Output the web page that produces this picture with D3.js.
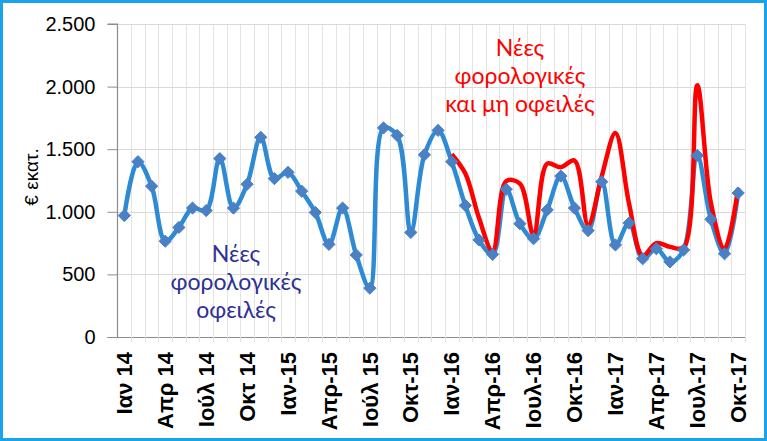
<!DOCTYPE html>
<html><head><meta charset="utf-8">
<script src="https://cdn.jsdelivr.net/npm/d3@7"></script>
<style>
html,body{margin:0;padding:0;background:#fff;}
svg{display:block;}
</style></head>
<body>
<svg id="chart" width="767" height="441"></svg>
<script>
const months = ["Ιαν 14","Φεβ 14","Μαρ 14","Απρ 14","Μαϊ 14","Ιούν 14","Ιούλ 14","Αυγ 14","Σεπ 14","Οκτ 14","Νοε 14","Δεκ 14",
"Ιαν-15","Φεβ-15","Μαρ-15","Απρ-15","Μαϊ-15","Ιούν 15","Ιούλ 15","Αυγ-15","Σεπ-15","Οκτ-15","Νοε-15","Δεκ-15",
"Ιαν-16","Φεβ-16","Μαρ-16","Απρ-16","Μαϊ-16","Ιουν-16","Ιουλ-16","Αυγ-16","Σεπ-16","Οκτ-16","Νοε-16","Δεκ-16",
"Ιαν-17","Φεβ-17","Μαρ-17","Απρ-17","Μαϊ-17","Ιουν-17","Ιουλ-17","Αυγ-17","Σεπ-17","Οκτ-17"];
const tickLabels = ["Ιαν 14","Απρ 14","Ιούλ 14","Οκτ 14","Ιαν-15","Απρ-15","Ιούλ 15","Οκτ-15","Ιαν-16","Απρ-16","Ιουλ-16","Οκτ-16","Ιαν-17","Απρ-17","Ιουλ-17","Οκτ-17"];
const newTaxDebts = [970,1400,1205,765,875,1030,1010,1425,1030,1220,1595,1265,
1315,1165,995,740,1030,655,390,1670,1610,835,1455,1650,
1400,1050,775,660,1180,905,785,1015,1285,1030,850,1240,
735,910,625,705,600,695,1450,940,665,1150];
const redMonths = months.slice(24);
const newTaxAndOtherDebts = [1460,1305,950,685,1245,1225,815,1385,1355,1410,895,1285,
1630,1065,650,750,720,715,2010,1070,705,1190];
const yTicks = [0,500,1000,1500,2000,2500];
const yTitle = "€ εκατ.";
const blueLabel = ["Νέες","φορολογικές","οφειλές"];
const redLabel = ["Νέες","φορολογικές","και μη οφειλές"];

(function(){
const svg = d3.select("#chart");
svg.append("rect").attr("x",1.5).attr("y",1.5).attr("width",764).attr("height",438)
  .attr("fill","#fff").attr("stroke","#1aa3e8").attr("stroke-width",3);

const pL=117.5, pR=745, pT=24, pB=337;
const x = d3.scaleBand().domain(months).range([pL,pR]).padding(0);
const cx = m => x(m) + x.bandwidth()/2;
const y = d3.scaleLinear().domain([0,2500]).range([pB,pT]);

const g = svg.append("g");
months.forEach((m,i)=>{
  const xx = Math.round(x(m)+x.bandwidth())+0.5;
  g.append("line").attr("x1",xx).attr("x2",xx).attr("y1",pT).attr("y2",pB)
    .attr("stroke","#e3e3e3").attr("stroke-width",1);
});
yTicks.slice(1).forEach(v=>{
  g.append("line").attr("x1",pL).attr("x2",pR).attr("y1",Math.round(y(v))+0.5).attr("y2",Math.round(y(v))+0.5)
   .attr("stroke","#d9d9d9").attr("stroke-width",1);
});

const yAxis = d3.axisLeft(y).tickValues(yTicks).tickSize(10).tickPadding(12)
  .tickFormat(d => d3.format(",")(d).replace(/,/g,"."));
const ya = svg.append("g").attr("transform",`translate(${pL},0)`).call(yAxis);
ya.select(".domain").attr("stroke","#8c8c8c").attr("stroke-width",1.2).attr("d",`M-10,${pT}H0V${pB}`);
ya.selectAll(".tick line").attr("stroke","#8c8c8c");
ya.selectAll("text").attr("font-family","Liberation Sans, Arial, sans-serif").attr("font-size",20).attr("fill","#000");

const xAxis = d3.axisBottom(x).tickValues(tickLabels).tickSize(0).tickPadding(0).tickFormat(d=>d);
const xa = svg.append("g").attr("transform",`translate(0,${pB})`).call(xAxis);
xa.select(".domain").attr("stroke","#8c8c8c").attr("stroke-width",1.2).attr("d",`M${pL-10},0.5H${pR}`);
xa.selectAll(".tick text")
  .attr("transform","rotate(-90)")
  .attr("x",-15).attr("y",0).attr("dy","0.35em")
  .attr("text-anchor","end")
  .attr("font-family","Liberation Sans, Arial, sans-serif").attr("font-weight","bold").attr("font-size",22).attr("fill","#000");
months.forEach(m=>{
  const xx = Math.round(x(m)+x.bandwidth())+0.5;
  svg.append("line").attr("x1",xx).attr("x2",xx).attr("y1",pB).attr("y2",pB+5).attr("stroke","#e0e0e0");
});

svg.append("text").attr("transform","translate(38,177) rotate(-90)")
  .attr("text-anchor","middle").attr("font-family","Liberation Sans, Arial, sans-serif")
  .attr("font-size",19).attr("fill","#000").text(yTitle);

const line = d3.line().x(d=>cx(d.m)).y(d=>y(d.v)).curve(d3.curveCatmullRom.alpha(0.5));
const blueData = months.map((m,i)=>({m,v:newTaxDebts[i]}));
const redData = redMonths.map((m,i)=>({m,v:newTaxAndOtherDebts[i]}));

svg.append("path").datum(blueData).attr("d",line).attr("fill","none")
  .attr("stroke","#2e8bd3").attr("stroke-width",4.5).attr("stroke-linejoin","round");
svg.append("path").datum(redData).attr("d",line).attr("fill","none")
  .attr("stroke","#ff0000").attr("stroke-width",4.5).attr("stroke-linejoin","round");

const sym = d3.symbol().type(d3.symbolDiamond2).size(95);
svg.append("g").selectAll("path").data(blueData).join("path")
  .attr("transform",d=>`translate(${cx(d.m)},${y(d.v)})`)
  .attr("d",sym).attr("fill","#4a80c4").attr("stroke","#4a80c4").attr("stroke-width",1);

const ann = (lines,xc,y0,color)=>{
  const t = svg.append("text").attr("text-anchor","middle")
    .attr("font-family","Lato, 'Open Sans', sans-serif").attr("font-size",23).attr("fill",color);
  lines.forEach((s,i)=>t.append("tspan").attr("x",xc).attr("y",y0+i*28).text(s));
};
ann(blueLabel,236,262,"#2e3192");
ann(redLabel,520,56,"#ff0000");
})();
</script>
</body></html>
